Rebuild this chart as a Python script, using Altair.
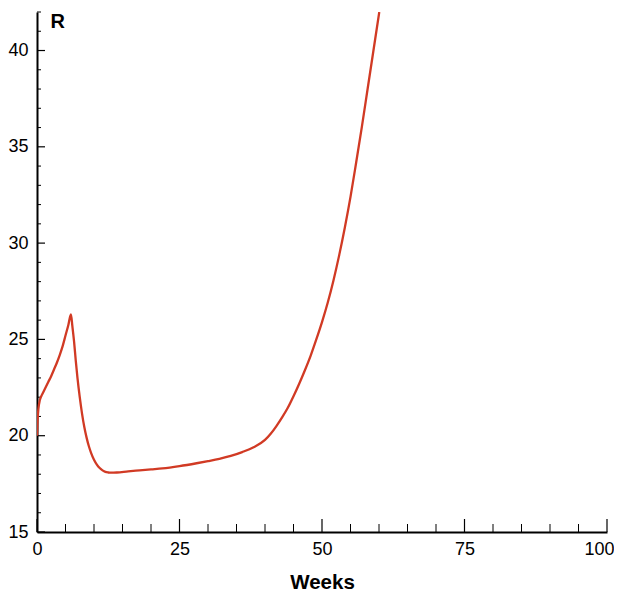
import altair as alt
import pandas as pd

weeks = [0, 0.1, 0.25, 0.5, 0.75, 1, 1.5, 2, 2.5, 3, 3.5, 4, 4.5, 5, 5.5, 5.95,
         6.2, 6.5, 6.8, 7.1, 7.5, 7.9, 8.3, 8.7, 9.1, 9.5, 10, 10.5, 11, 11.5, 12, 12.5, 13, 14,
         16, 18, 20, 22, 25, 28, 30, 32, 34, 36, 38, 40, 41, 42, 43, 44, 45, 46, 47, 48, 49,
         50, 51, 52, 53, 54, 55, 56, 57, 58, 59, 60, 60.05]
r_vals = [20.0, 20.8, 21.4, 21.85, 22.05, 22.2, 22.5, 22.8, 23.1, 23.45, 23.8, 24.2, 24.65, 25.2,
          25.75, 26.3,
          25.7, 24.9, 23.9, 23.0, 22.0, 21.15, 20.45, 19.9, 19.45, 19.1, 18.75, 18.5, 18.32, 18.2,
          18.12, 18.09, 18.08, 18.09,
          18.15, 18.2, 18.25, 18.3, 18.42, 18.57, 18.68, 18.8, 18.95, 19.15, 19.4, 19.78, 20.1,
          20.5, 20.95, 21.45, 22.05, 22.7, 23.4, 24.15, 25.0,
          25.9, 26.9, 28.05, 29.35, 30.8, 32.4, 34.2, 36.05, 38.0, 39.95, 41.9, 42.0]

x_major = [0, 25, 50, 75, 100]
x_minor = [5, 10, 15, 20, 30, 35, 40, 45, 55, 60, 65, 70, 80, 85, 90, 95]
y_major = [15, 20, 25, 30, 35, 40]
y_minor = [16, 17, 18, 19, 21, 22, 23, 24, 26, 27, 28, 29, 31, 32, 33, 34, 36, 37, 38, 39, 41, 42]

df = pd.DataFrame({"Weeks": weeks, "R": r_vals})

xs = alt.Scale(domain=[0, 100], nice=False)
ys = alt.Scale(domain=[15, 42], nice=False)

FONT = "Liberation Sans"

line = alt.Chart(df).mark_line(color="#d13a24", strokeWidth=2.3, clip=True,
                               interpolate="monotone").encode(
    x=alt.X("Weeks:Q", scale=xs, axis=alt.Axis(
        values=x_major, ticks=False, grid=False, domainColor="black", domainWidth=2,
        labelFont=FONT, labelFontSize=18, labelColor="black", labelPadding=8, labelFlush=False,
        labelAlign={"expr": "datum.value == 100 ? 'right' : 'center'"},
        labelOffset={"expr": "datum.value == 100 ? 7 : 0"},
        title="Weeks", titleFont=FONT, titleFontSize=20.5, titleFontWeight="bold",
        titleColor="black", titleBaseline="alphabetic", titleY=56)),
    y=alt.Y("R:Q", scale=ys, axis=alt.Axis(
        values=y_major, ticks=False, grid=False, domainColor="black", domainWidth=2,
        labelFont=FONT, labelFontSize=18, labelColor="black", labelPadding=9, labelFlush=False,
        title="R", titleFont=FONT, titleFontSize=20, titleFontWeight="bold",
        titleColor="black", titleAngle=0, titleAlign="left", titleBaseline="alphabetic",
        titleX=13, titleY=15)),
)

xmaj = alt.Chart(pd.DataFrame({"t": x_major})).mark_rule(color="black", strokeWidth=1.2).encode(
    x=alt.X("t:Q", scale=xs), y=alt.value(520), y2=alt.value(507))
xmin = alt.Chart(pd.DataFrame({"t": x_minor})).mark_rule(color="black", strokeWidth=1).encode(
    x=alt.X("t:Q", scale=xs), y=alt.value(520), y2=alt.value(512))
ymaj = alt.Chart(pd.DataFrame({"t": y_major})).mark_rule(color="black", strokeWidth=1.2).encode(
    y=alt.Y("t:Q", scale=ys), x=alt.value(0), x2=alt.value(8))
ymin = alt.Chart(pd.DataFrame({"t": y_minor})).mark_rule(color="black", strokeWidth=1).encode(
    y=alt.Y("t:Q", scale=ys), x=alt.value(0), x2=alt.value(4))

chart = alt.layer(xmin, xmaj, ymin, ymaj, line).properties(
    width=570, height=520,
    autosize=alt.AutoSizeParams(type="none"),
    padding={"left": 29, "top": 4, "right": 7, "bottom": 60},
).configure_view(stroke=None)

chart.save("out.html", embed_options={"renderer": "svg", "actions": False})
